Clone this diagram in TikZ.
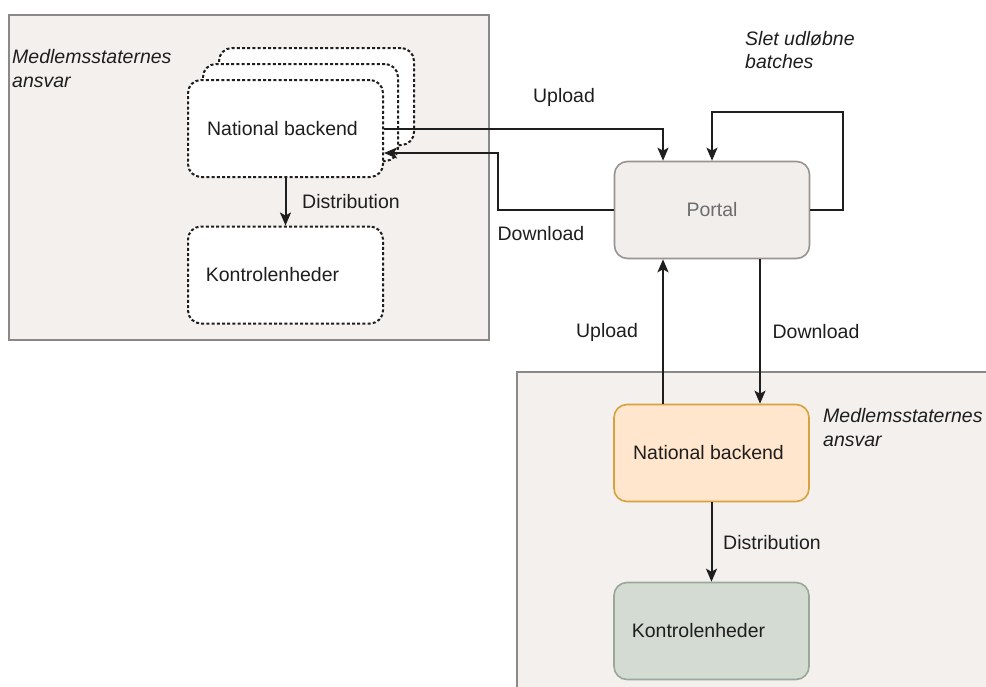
\documentclass[tikz,border=0pt]{standalone}
\usepackage{fontspec}
\setmainfont{Liberation Sans}
\usetikzlibrary{arrows.meta,calc}
\definecolor{contfill}{HTML}{F4F0EE}
\definecolor{contdraw}{HTML}{8C8888}
\definecolor{portfill}{HTML}{F2EEEC}
\definecolor{portdraw}{HTML}{9A9491}
\definecolor{orfill}{HTML}{FFE6CC}
\definecolor{ordraw}{HTML}{D6A23E}
\definecolor{grfill}{HTML}{D3DBD3}
\definecolor{grdraw}{HTML}{9AA89A}
\definecolor{ink}{HTML}{1E1E1E}
\tikzset{
  every node/.style={font=\fontsize{19.5}{23.5}\selectfont, text=ink},
  container/.style={fill=contfill, draw=contdraw, line width=1.5pt},
  dashbox/.style={draw=ink, fill=white, line width=2pt, dash pattern=on 3pt off 2.2pt,
    rounded corners=13pt, minimum width=195pt, minimum height=97pt, inner sep=0pt},
  solidbox/.style={line width=1.6pt, rounded corners=13pt, minimum width=195pt,
    minimum height=97pt, inner sep=0pt},
  arr/.style={draw=ink, line width=2pt, -{Stealth[length=13pt,width=11pt,inset=3pt]}},
  lbl/.style={inner sep=0pt},
  ital/.style={inner sep=0pt, align=left, font=\fontsize{19.5}{23.5}\selectfont\itshape},
}
\begin{document}
\begin{tikzpicture}[x=1pt,y=-1pt]
\useasboundingbox (0,0) rectangle (986,686);
% containers
\draw[container] (9,15) rectangle (489,340);
\begin{scope}
\clip (0,0) rectangle (986,686);
\draw[container] (517,372) rectangle (1000,700);
\end{scope}

% left stacked national backends
\node[dashbox] (nb1c) at (316.5,96.5) {};
\node[dashbox] (nb1b) at (300.5,112.5) {};
\node[dashbox] (nb1) at (285.5,128.5) {National backend\kern6pt};
\node[dashbox] (ke1) at (285.5,275) {Kontrolenheder\kern26pt};

% portal
\node[solidbox, fill=portfill, draw=portdraw, text=gray!85!black] (portal) at (712,210) {Portal};

% bottom
\node[solidbox, fill=orfill, draw=ordraw] (nb2) at (711.5,453) {National backend\kern6pt};
\node[solidbox, fill=grfill, draw=grdraw] (ke2) at (711.5,631) {Kontrolenheder\kern26pt};

% labels
\node[ital, anchor=west] (ms1) at (12,68.5) {Medlemsstaternes\\ansvar};
\node[ital, anchor=west] (slet) at (745,50) {Slet udløbne\\batches};
\node[ital, anchor=west] (ms2) at (823,427.5) {Medlemsstaternes\\ansvar};
\node[lbl] (up1) at (564,97) {Upload};
\node[lbl] (dn1) at (541,234) {Download};
\node[lbl] (up2) at (607,332) {Upload};
\node[lbl] (dn2) at (816,332) {Download};
\node[lbl, anchor=west] (dist1) at (302,202) {Distribution};
\node[lbl, anchor=west] (dist2) at (723,543) {Distribution};

% coordinates
\coordinate (pn1) at ($(portal.north)+(-49,0)$);
\coordinate (ps1) at ($(portal.south)+(-49,0)$);
\coordinate (ps2) at ($(portal.south)+(48,0)$);
\coordinate (dnin) at ($(nb1.east)+(0,24.5)$);
\coordinate (dnbend) at (498,153);

% connectors
\draw[arr] (nb1.east) -| (pn1);
\draw[arr] (portal.west) -| (dnbend) -- (dnin);
\draw[arr] (portal.east) -- ++(33,0) |- ($(portal.north)+(0,-49)$) -- (portal.north);
\draw[arr] (nb1.south) -- (ke1.north);
\draw[arr] (nb2.north -| ps1) -- (ps1);
\draw[arr] (ps2) -- (nb2.north -| ps2);
\draw[arr] (nb2.south) -- (ke2.north);
\end{tikzpicture}
\end{document}
